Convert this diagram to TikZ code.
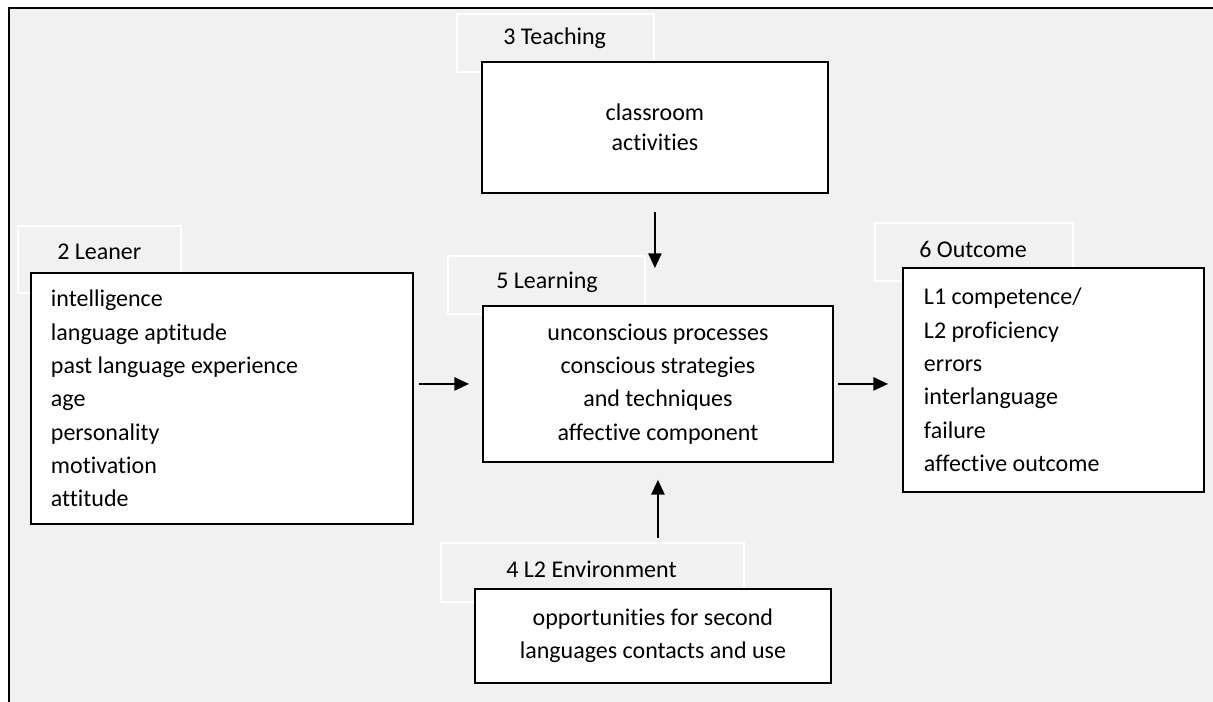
\documentclass[tikz,border=0pt]{standalone}
\usepackage{fontspec}
\setmainfont{Carlito}[Ligatures={NoCommon,NoRare,NoContextual}]
\usetikzlibrary{arrows.meta}
\definecolor{bg}{HTML}{F1F1F1}
\begin{document}
\begin{tikzpicture}[x=0.75pt,y=-0.75pt,
  box/.style={draw=black, line width=1.4pt, fill=white, inner sep=0pt, anchor=north west},
  lbl/.style={draw=white, line width=1.2pt, fill=bg, inner sep=0pt, anchor=north west, minimum height=43.5pt},
  lbltxt/.style={anchor=west, inner sep=0pt},
  arr/.style={line width=1.1pt, -{Triangle[length=11pt,width=10pt]}},
  font=\fontsize{18}{25}\selectfont]
\useasboundingbox (0,0) rectangle (1213,702);
\fill[white] (0,0) rectangle (1213,702);
\fill[bg] (9,8) rectangle (1213,702);
\draw[line width=1.6pt] (9,702) -- (9,8) -- (1213,8);

% label boxes
\node[lbl, minimum width=147.75pt] (teachL) at (456,13) {};
\node[lbl, minimum width=122.25pt, minimum height=50.25pt] (leanerL) at (17,225) {};
\node[lbl, minimum width=147.75pt] (learnL) at (447,255) {};
\node[lbl, minimum width=148.5pt] (outL) at (874,222) {};
\node[lbl, minimum width=227.25pt, minimum height=44.25pt] (envL) at (440,542) {};

\node[lbltxt] (teachT) at (503,38) {3 Teaching};
\node[lbltxt] (leanerT) at (57,252) {2 Leaner};
\node[lbltxt] (learnT) at (496,282) {5 Learning};
\node[lbltxt] (outT) at (919,249) {6 Outcome};
\node[lbltxt] (envT) at (506,569) {4 L2 Environment};

% main boxes
\node[box, minimum width=259.5pt, minimum height=98.25pt, align=center,
      font=\fontsize{18}{22.5}\selectfont] (teach) at (481,61) {classroom\\activities};
\node[box, minimum width=286.5pt, minimum height=188.25pt, text width=256.5pt, align=flush left]
  (leaner) at (30,272) {intelligence\\language aptitude\\past language experience\\age\\personality\\motivation\\attitude};
\node[box, minimum width=262.5pt, minimum height=117pt, align=center]
  (learn) at (482,305) {unconscious processes\\conscious strategies\\and techniques\\affective component};
\node[box, minimum width=225.75pt, minimum height=168pt, text width=194.25pt, align=flush left]
  (out) at (902,267) {L1 competence/\\L2 proficiency\\errors\\interlanguage\\failure\\affective outcome};
\node[box, minimum width=267pt, minimum height=70.5pt, align=center]
  (env) at (474,588) {opportunities for second\\languages contacts and use};

% arrows
\draw[arr, shorten <=3.75pt, shorten >=9.75pt] (leaner.east |- learn.west) -- (learn.west);
\draw[arr, shorten <=13.5pt, shorten >=27.75pt] (teach.south) -- (teach.south |- learn.north);
\draw[arr, shorten <=37.5pt, shorten >=12.75pt] (learn.south |- env.north) -- (learn.south);
\draw[arr, shorten <=3pt, shorten >=10.5pt] (learn.east) -- (learn.east -| out.west);
\end{tikzpicture}
\end{document}
